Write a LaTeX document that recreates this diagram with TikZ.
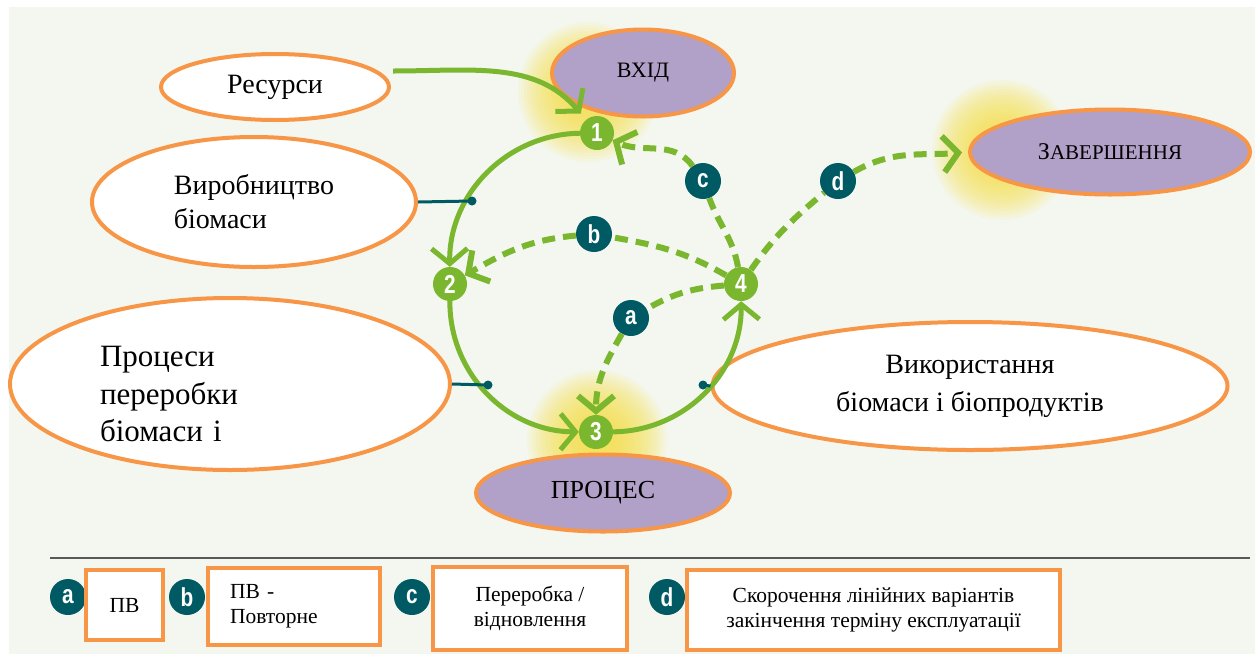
\documentclass[tikz,border=0pt]{standalone}
\usepackage{fontspec}
\setmainfont{Liberation Serif}
\newfontfamily\numfont{Liberation Sans}[FakeStretch=0.8]
\usetikzlibrary{shapes.geometric,arrows.meta}
\definecolor{bgcol}{HTML}{F4F7F0}
\definecolor{leaf}{HTML}{7AB72E}
\definecolor{petrol}{HTML}{005A64}
\definecolor{frame}{HTML}{F79646}
\definecolor{lilac}{HTML}{B1A0C7}
\definecolor{glow}{HTML}{FFE14A}
\definecolor{rule}{HTML}{595959}
\begin{document}
\begin{tikzpicture}[x=1pt,y=1pt,
    oval/.style={ellipse,draw=frame,line width=4pt,fill=white,inner sep=0pt},
    stage/.style={oval,fill=lilac},
    num/.style={circle,fill=leaf,minimum size=34pt,inner sep=0pt,text=white,font=\numfont\bfseries\fontsize{26}{26}\selectfont},
    tag/.style={circle,fill=petrol,minimum size=36pt,inner sep=0pt,text=white,font=\numfont\bfseries\fontsize{26}{26}\selectfont},
    keybox/.style={rectangle,draw=frame,line width=4pt,fill=white,inner sep=0pt,font=\fontsize{21.5}{25}\selectfont},
    flow/.style={draw=leaf,line width=5pt,-{Straight Barb[length=15pt,width=36pt]}},
    dflow/.style={flow,line width=6pt,dash pattern=on 13pt off 8pt},
    link/.style={draw=petrol,line width=3pt}]
	\useasboundingbox (0,0) rectangle (1255,-654);
	\fill[bgcol] (9,-7) rectangle (1255,-654);
	\foreach \c in {(588,-92),(1002,-150),(597,-440)}
		\foreach \r in {70,67,...,4}
			\fill[glow,opacity=.09] \c circle (\r);

	\path (597,-133) node[num] (n1) {1};
	\path (450,-284) node[num] (n2) {2};
	\path (596,-432) node[num] (n3) {3};
	\path (741,-284) node[num] (n4) {4};

	\path (631,-318) node[tag] (la) {a};
	\path (594,-234) node[tag] (lb) {b};
	\path (703,-181) node[tag] (lc) {c};
	\path (838,-181) node[tag] (ld) {d};

	\node[oval,minimum width=228pt,minimum height=66pt,font=\fontsize{28}{34}\selectfont] (res) at (275,-87) {Ресурси};
	\node[oval,minimum width=324pt,minimum height=130pt,align=left,font=\fontsize{28}{34}\selectfont] (prod) at (254,-202) {Виробництво\\біомаси};
	\node[oval,minimum width=440pt,minimum height=172pt,text width=260pt,align=left,font=\fontsize{31}{37.5}\selectfont] (proc) at (230,-384) {\rule{0pt}{41pt}Процеси\\переробки\\біомаси і};
	\node[oval,minimum width=515pt,minimum height=128pt,align=center,font=\fontsize{28}{38}\selectfont] (use) at (970,-386) {Використання\\біомаси і біопродуктів};

	\node[stage,minimum width=182pt,minimum height=87pt,font=\fontsize{22}{22}\selectfont] (inp) at (643,-73) {ВХІД};
	\node[stage,minimum width=280pt,minimum height=85pt,font=\fontsize{21}{21}\selectfont] (fin) at (1110,-152) {{\fontsize{24}{24}\selectfont З}АВЕРШЕННЯ};
	\node[stage,minimum width=254pt,minimum height=77pt,font=\fontsize{26}{26}\selectfont] (prc) at (603,-493) {ПРОЦЕС};

	\coordinate (src) at (393,-71);
	\draw[flow,shorten >=8pt] (src) to[out=0,in=130] (n1);
	\draw[flow] (n1) to[bend right=45] (n2);
	\draw[flow] (n2) to[bend right=45] (n3);
	\draw[flow] (n3) to[bend right=45] (n4);

	\draw[dflow] (n4) to[out=185,in=30] (la) to[out=240,in=90] (n3);
	\draw[dflow] (n4) to[out=150,in=350] (lb) to[out=185,in=30] (n2);
	\draw[dflow] (n4) to[out=100,in=290] (lc) to[out=125,in=335] (n1);
	\draw[dflow,shorten >=6pt] (n4) to[out=55,in=220] (ld) to[out=30,in=185] (fin.west);

	\coordinate (dot1) at (472,-201);
	\coordinate (dot2) at (488,-385);
	\coordinate (dot3) at (703,-385);
	\draw[link] (prod.east) -- (dot1);
	\draw[link] (proc.east) -- (dot2);
	\draw[link] (use.west) -- (dot3);
	\foreach \d in {dot1,dot2,dot3}
		\fill[petrol] (\d) circle (4.5);

	\draw[rule,line width=2pt] (50,-558) -- (1250,-558);

	\path (68,-597)  node[tag] (ka) {a};
	\path (187,-597) node[tag] (kb) {b};
	\path (412,-597) node[tag] (kc) {c};
	\path (667,-597) node[tag] (kd) {d};
	\node[keybox,minimum width=77pt,minimum height=70pt] (kpa) at (124.5,-605) {ПВ};
	\node[keybox,minimum width=172pt,minimum height=77pt,text width=128pt,align=left] (kpb) at (294,-606.5) {ПВ -\\Повторне};
	\node[keybox,minimum width=194pt,minimum height=83pt,align=center] (kpc) at (530,-608.5) {Переробка /\\відновлення};
	\node[keybox,minimum width=373pt,minimum height=80pt,align=center] (kpd) at (873.5,-610) {Скорочення лінійних варіантів\\закінчення терміну експлуатації};
\end{tikzpicture}
\end{document}
